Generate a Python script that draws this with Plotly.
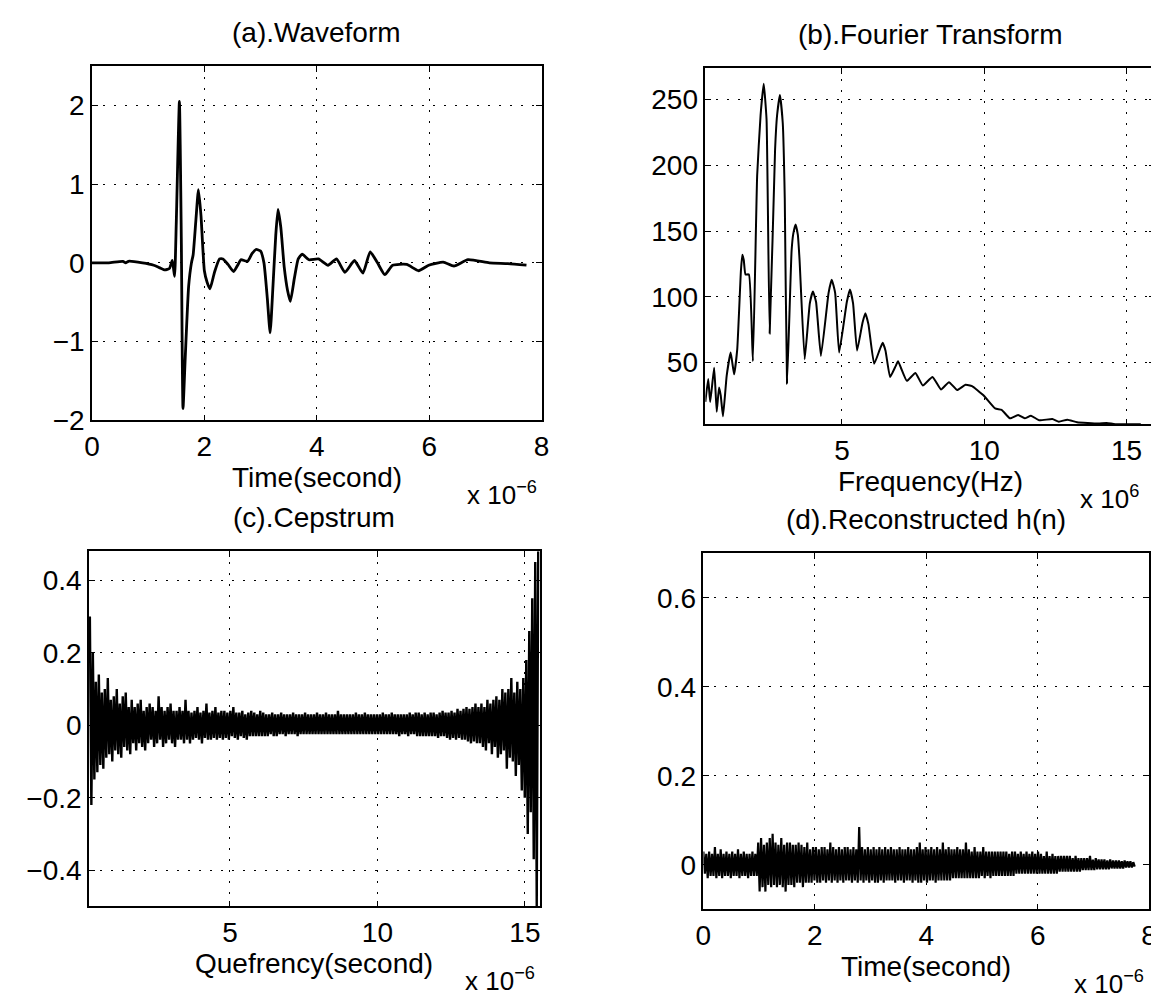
import numpy as np
import plotly.graph_objects as go

# ---------------- data ----------------
# (a) waveform, time in microseconds
wave_t = [0.0, 0.3, 0.55, 0.6, 0.65, 0.9, 1.1, 1.2, 1.3, 1.38, 1.43, 1.47, 1.50, 1.556, 1.59, 1.62,
          1.66, 1.72, 1.77, 1.80, 1.85, 1.895, 1.94, 2.0, 2.05, 2.10, 2.18, 2.27, 2.33, 2.42, 2.52,
          2.60, 2.65, 2.77, 2.85, 2.92, 3.0, 3.06, 3.12, 3.17, 3.22, 3.27, 3.31, 3.36, 3.42, 3.48,
          3.53, 3.60, 3.67, 3.74, 3.86, 4.03, 4.2, 4.35, 4.5, 4.67, 4.82, 4.95, 5.08, 5.21, 5.35,
          5.6, 5.81, 5.99, 6.25, 6.44, 6.69, 7.07, 7.4, 7.73]
wave_v = [0.0, 0.0, 0.02, 0.0, 0.02, 0.0, -0.03, -0.06, -0.09, -0.07, 0.03, -0.17, 0.5, 2.05, 0.3, -1.85,
          -1.2, -0.3, 0.0, 0.1, 0.55, 0.93, 0.6, -0.1, -0.25, -0.33, -0.12, 0.05, 0.05, -0.02, -0.11,
          -0.02, 0.04, 0.02, 0.12, 0.17, 0.15, 0.0, -0.45, -0.89, -0.3, 0.35, 0.68, 0.45, -0.05, -0.35,
          -0.49, -0.2, 0.05, 0.11, 0.04, 0.05, -0.03, 0.05, -0.12, 0.03, -0.13, 0.14, 0.0, -0.15, -0.03,
          -0.02, -0.1, -0.03, 0.01, -0.04, 0.04, 0.0, -0.01, -0.03]

# (b) Fourier transform magnitude, frequency in MHz
ft_f = [0.2, 0.30, 0.37, 0.51, 0.60, 0.68, 0.74, 0.82, 0.95, 1.09, 1.21, 1.32, 1.45, 1.50, 1.55, 1.61,
        1.73, 1.87, 2.02, 2.14, 2.25, 2.35, 2.46, 2.65, 2.72, 2.82, 2.92, 2.99, 3.07, 3.23, 3.29, 3.37,
        3.45, 3.51, 3.69, 3.87, 3.98, 4.09, 4.26, 4.53, 4.64, 4.76, 4.90, 5.17, 5.28, 5.39, 5.53, 5.72,
        5.82, 5.93, 6.13, 6.33, 6.43, 6.53, 6.69, 6.88, 6.97, 7.07, 7.28, 7.58, 7.84, 8.18, 8.48, 8.76,
        9.05, 9.34, 9.57, 9.97, 10.38, 10.61, 10.90, 11.19, 11.42, 11.64, 11.93, 12.39, 12.62, 12.92,
        13.26, 14.0, 14.3, 14.6, 15.5]
ft_a = [20, 37.5, 20, 46, 12.5, 31, 25, 9, 40, 57.5, 41, 60, 120, 132, 128, 117,
        117, 51, 192, 238, 262, 235, 72, 212, 238, 253.5, 232, 175, 34, 135, 148, 155,
        147, 128, 52.5, 95, 104, 96, 55, 103, 113, 103, 57.5, 96, 105.5, 95, 59, 80,
        87.5, 79, 49, 60, 65, 59, 39, 47, 51, 46, 36, 42, 32.5, 39, 29.5, 35,
        29, 33, 32, 25, 15, 14, 7.5, 10, 7.5, 9.5, 6, 7, 5, 6.5,
        4.5, 3.5, 4, 3, 3]

# (c) cepstrum, quefrency in microseconds (regular sample grid)
cep_q_start = 0.25
cep_q_step = 0.05067
cep_v = [0.30, -0.22, 0.20, -0.15, 0.12, -0.13, 0.14, -0.11, 0.09, -0.12,
         0.10, -0.09, 0.13, -0.08, 0.07, -0.10, 0.08, -0.07, 0.10, -0.08,
         0.06, -0.09, 0.08, -0.06, 0.09, -0.07, 0.05, -0.08, 0.07, -0.05,
         0.05, -0.07, 0.06, -0.05, 0.07, -0.06, 0.04, -0.07, 0.05, -0.05,
         0.06, -0.04, 0.05, -0.06, 0.04, -0.05, 0.08, -0.04, 0.05, -0.06,
         0.04, -0.05, 0.05, -0.04, 0.06, -0.05, 0.04, -0.06, 0.04, -0.04,
         0.05, -0.04, 0.04, -0.05, 0.07, -0.04, 0.04, -0.05, 0.035, -0.04,
         0.04, -0.035, 0.05, -0.04, 0.035, -0.05, 0.04, -0.035, 0.06, -0.04,
         0.035, -0.04, 0.04, -0.035, 0.05, -0.04, 0.035, -0.035, 0.04, -0.04,
         0.04, -0.035, 0.035, -0.04, 0.04, -0.03, 0.05, -0.035, 0.035, -0.04,
         0.035, -0.03, 0.04, -0.035, 0.03, -0.04, 0.035, -0.03, 0.04, -0.03,
         0.035, -0.03, 0.03, -0.03, 0.04, -0.03, 0.035, -0.03, 0.03, -0.03,
         0.03, -0.025, 0.035, -0.03, 0.03, -0.03, 0.03, -0.025, 0.035, -0.025,
         0.03, -0.03, 0.03, -0.025, 0.03, -0.025, 0.035, -0.025, 0.03, -0.03,
         0.03, -0.025, 0.03, -0.025, 0.035, -0.025, 0.03, -0.025, 0.03, -0.025,
         0.03, -0.025, 0.035, -0.025, 0.03, -0.025, 0.03, -0.025, 0.035, -0.025,
         0.03, -0.025, 0.03, -0.025, 0.03, -0.025, 0.04, -0.025, 0.03, -0.025,
         0.03, -0.025, 0.03, -0.025, 0.03, -0.025, 0.03, -0.025, 0.035, -0.025,
         0.03, -0.025, 0.03, -0.025, 0.035, -0.025, 0.03, -0.025, 0.03, -0.025,
         0.03, -0.025, 0.03, -0.025, 0.03, -0.025, 0.035, -0.025, 0.03, -0.025,
         0.03, -0.025, 0.035, -0.025, 0.03, -0.025, 0.03, -0.03, 0.03, -0.025,
         0.03, -0.025, 0.03, -0.03, 0.035, -0.025, 0.03, -0.025, 0.035, -0.03,
         0.035, -0.03, 0.03, -0.03, 0.035, -0.03, 0.03, -0.03, 0.035, -0.03,
         0.035, -0.03, 0.03, -0.035, 0.035, -0.03, 0.04, -0.03, 0.035, -0.035,
         0.035, -0.04, 0.04, -0.035, 0.035, -0.04, 0.045, -0.035, 0.04, -0.04,
         0.045, -0.04, 0.05, -0.045, 0.045, -0.05, 0.05, -0.045, 0.06, -0.05,
         0.05, -0.05, 0.06, -0.06, 0.05, -0.07, 0.07, -0.05, 0.06, -0.08,
         0.07, -0.06, 0.08, -0.09, 0.07, -0.08, 0.10, -0.07, 0.09, -0.12,
         0.10, -0.09, 0.13, -0.10, 0.09, -0.14, 0.12, -0.11, 0.10, -0.18,
         0.13, -0.20, 0.18, -0.30, 0.26, -0.24, 0.35, -0.37, 0.45, -0.50,
         0.48]

# (d) reconstructed h(n), time in microseconds (regular sample grid)
rec_t_start = 0.0
rec_t_step = 0.02589
rec_v = [0.03, -0.02, 0.025, -0.03, 0.03, -0.025, 0.025, -0.025, 0.04, -0.03,
         0.025, -0.025, 0.035, -0.03, 0.025, -0.025, 0.03, -0.025, 0.025, -0.03,
         0.03, -0.025, 0.025, -0.025, 0.035, -0.03, 0.025, -0.025, 0.03, -0.025,
         0.025, -0.03, 0.025, -0.025, 0.03, -0.025, 0.025, -0.025, 0.05, -0.06,
         0.06, -0.05, 0.045, -0.06, 0.05, -0.045, 0.06, -0.05, 0.07, -0.045,
         0.05, -0.05, 0.045, -0.045, 0.06, -0.05, 0.045, -0.06, 0.05, -0.045,
         0.05, -0.045, 0.045, -0.05, 0.045, -0.04, 0.05, -0.04, 0.045, -0.05,
         0.04, -0.04, 0.05, -0.04, 0.035, -0.04, 0.04, -0.035, 0.04, -0.04,
         0.035, -0.04, 0.04, -0.035, 0.04, -0.04, 0.035, -0.035, 0.05, -0.04,
         0.04, -0.035, 0.035, -0.04, 0.04, -0.035, 0.035, -0.04, 0.04, -0.035,
         0.04, -0.035, 0.035, -0.04, 0.04, -0.035, 0.035, -0.04, 0.085, -0.035,
         0.04, -0.04, 0.035, -0.035, 0.04, -0.04, 0.035, -0.035, 0.04, -0.04,
         0.035, -0.04, 0.04, -0.035, 0.035, -0.04, 0.04, -0.035, 0.035, -0.035,
         0.04, -0.035, 0.035, -0.04, 0.035, -0.035, 0.04, -0.035, 0.035, -0.04,
         0.035, -0.035, 0.04, -0.035, 0.035, -0.04, 0.035, -0.035, 0.04, -0.04,
         0.05, -0.04, 0.035, -0.035, 0.04, -0.04, 0.035, -0.035, 0.04, -0.035,
         0.035, -0.04, 0.04, -0.035, 0.035, -0.035, 0.05, -0.035, 0.035, -0.035,
         0.04, -0.035, 0.035, -0.03, 0.035, -0.03, 0.04, -0.03, 0.035, -0.03,
         0.035, -0.03, 0.05, -0.03, 0.035, -0.03, 0.03, -0.03, 0.04, -0.03,
         0.03, -0.03, 0.03, -0.025, 0.04, -0.03, 0.03, -0.025, 0.03, -0.03,
         0.03, -0.025, 0.03, -0.025, 0.03, -0.025, 0.03, -0.025, 0.03, -0.025,
         0.03, -0.025, 0.025, -0.025, 0.03, -0.025, 0.03, -0.02, 0.025, -0.02,
         0.03, -0.02, 0.025, -0.02, 0.03, -0.02, 0.025, -0.02, 0.03, -0.02,
         0.025, -0.02, 0.03, -0.02, 0.025, -0.02, 0.02, -0.02, 0.03, -0.02,
         0.02, -0.02, 0.025, -0.02, 0.02, -0.02, 0.02, -0.015, 0.02, -0.015,
         0.02, -0.015, 0.02, -0.015, 0.02, -0.015, 0.015, -0.015, 0.02, -0.015,
         0.015, -0.015, 0.015, -0.012, 0.015, -0.012, 0.015, -0.012, 0.02, -0.012,
         0.012, -0.012, 0.015, -0.01, 0.012, -0.01, 0.012, -0.01, 0.012, -0.01,
         0.01, -0.01, 0.012, -0.008, 0.01, -0.008, 0.01, -0.008, 0.01, -0.008,
         0.008, -0.008, 0.01, -0.006, 0.008, -0.006, 0.008, -0.006, 0.006, -0.004]

titles = ["(a).Waveform", "(b).Fourier Transform", "(c).Cepstrum", "(d).Reconstructed h(n)"]
xlabels = ["Time(second)", "Frequency(Hz)", "Quefrency(second)", "Time(second)"]
exponents = ["x 10<sup>\u22126</sup>", "x 10<sup>6</sup>", "x 10<sup>\u22126</sup>", "x 10<sup>\u22126</sup>"]

cep_q = cep_q_start + cep_q_step * np.arange(len(cep_v))
rec_t = rec_t_start + rec_t_step * np.arange(len(rec_v))

# ---------------- figure ----------------
W, H = 1159, 1004
FONT = "Liberation Sans, Arial, Helvetica, sans-serif"
FS = 28

fig = go.Figure()
fig.add_trace(go.Scatter(x=wave_t, y=wave_v, mode="lines",
                         line=dict(color="black", width=2.8, shape="spline", smoothing=0.5),
                         xaxis="x", yaxis="y", showlegend=False))
fig.add_trace(go.Scatter(x=ft_f, y=ft_a, mode="lines",
                         line=dict(color="black", width=2.0, shape="spline", smoothing=0.4),
                         xaxis="x2", yaxis="y2", showlegend=False))
fig.add_trace(go.Scatter(x=cep_q, y=cep_v, mode="lines", line=dict(color="black", width=2.4),
                         xaxis="x3", yaxis="y3", showlegend=False))
fig.add_trace(go.Scatter(x=rec_t, y=rec_v, mode="lines", line=dict(color="black", width=2.2),
                         xaxis="x4", yaxis="y4", showlegend=False))

# plot-area pixel boxes (left, right, top, bottom)
boxes = [(77, 533, 59, 419), (699, 1155, 61, 423), (74, 531, 552, 913), (697, 1149, 554, 916)]
xranges = [[0, 8], [0.2, 16], [0.22, 15.5], [0, 8]]
yranges = [[-2, 2.5], [3, 274], [-0.5, 0.48], [-0.1, 0.7]]
xticks = [[0, 2, 4, 6, 8], [5, 10, 15], [5, 10, 15], [0, 2, 4, 6, 8]]
yticks = [[-2, -1, 0, 1, 2], [50, 100, 150, 200, 250], [-0.4, -0.2, 0, 0.2, 0.4], [0, 0.2, 0.4, 0.6]]

common = dict(showline=True, linecolor="black", linewidth=1.5, mirror="ticks",
              ticks="inside", ticklen=6, tickcolor="black", tickwidth=1,
              showgrid=True, gridcolor="black", gridwidth=1.2, griddash="2px,9px",
              zeroline=False, tickfont=dict(family=FONT, size=FS, color="black"))

layout = dict(width=W, height=H, margin=dict(l=0, r=0, t=0, b=0),
              paper_bgcolor="white", plot_bgcolor="white", showlegend=False)
ann = []
for i, (l, r, t, b) in enumerate(boxes):
    sfx = "" if i == 0 else str(i + 1)
    layout["xaxis" + sfx] = dict(domain=[l / W, r / W], range=xranges[i], tickvals=xticks[i],
                                 anchor="y" + sfx, ticklabelstandoff=0, **common)
    layout["yaxis" + sfx] = dict(domain=[1 - b / H, 1 - t / H], range=yranges[i], tickvals=yticks[i],
                                 anchor="x" + sfx, ticklabelstandoff=0, **common)
    cx = (l + r) / 2
    ann.append(dict(text=titles[i], x=cx / W, y=1 - (t - 34) / H, xref="paper", yref="paper",
                    xanchor="center", yanchor="middle", showarrow=False,
                    font=dict(family=FONT, size=FS, color="black")))
    ann.append(dict(text=xlabels[i], x=cx / W, y=1 - (b + 58) / H, xref="paper", yref="paper",
                    xanchor="center", yanchor="middle", showarrow=False,
                    font=dict(family=FONT, size=FS, color="black")))
    ann.append(dict(text=exponents[i], x=(r - 78) / W, y=1 - (b + 74) / H, xref="paper", yref="paper",
                    xanchor="left", yanchor="middle", showarrow=False,
                    font=dict(family=FONT, size=FS - 2, color="black")))
layout["annotations"] = ann
fig.update_layout(**layout)
fig.write_html("out.html")
